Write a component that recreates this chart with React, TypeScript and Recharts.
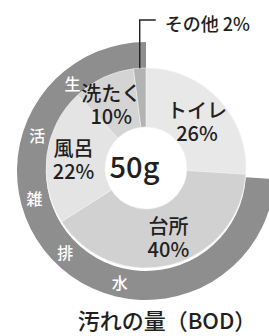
import { PieChart, Pie, Cell, Label } from 'recharts';

const categories = ['トイレ', '台所', '風呂', '洗たく', 'その他'];
const shares = [26, 40, 22, 10, 2];
const ringName = '生活雑排水';
const ringShare = 74;
const totalLabel = '50g';
const title = '汚れの量（BOD）';

const sliceColors = ['#e8e8e8', '#d1d1d1', '#e4e4e4', '#d4d4d4', '#b3b3b3'];
// small hand nudges so the labels sit where the original print puts them
const labelNudge = [
  [0, 1],
  [5, 1],
  [-3, 0],
  [-5, -1],
];
const ringColor = '#8e8e8e';
const FONT = '"Noto Sans CJK JP", "Noto Sans", sans-serif';
const TEXT = '#231f20';
const RADIAN = Math.PI / 180;

const innerData = categories.map((name, i) => ({ name, value: shares[i] }));
const ringData = [
  { name: 'トイレ', value: shares[0] },
  { name: ringName, value: ringShare },
];

function innerLabel(props: any) {
  const { cx, cy, midAngle, outerRadius, index } = props;
  const name = categories[index];
  const pct = `${shares[index]}%`;
  if (name === 'その他') {
    const x = cx + outerRadius * Math.cos(-midAngle * RADIAN);
    const y = cy + outerRadius * Math.sin(-midAngle * RADIAN);
    const top = 20;
    return (
      <g>
        <polyline
          points={`${x},${y} ${x},${top} ${x + 16},${top}`}
          fill="none"
          stroke={TEXT}
          strokeWidth={1.4}
        />
        <text x={x + 25} y={top + 3} fill={TEXT} fontSize={18} fontWeight={500} fontFamily={FONT} dominantBaseline="central">
          {`${name} ${pct}`}
        </text>
      </g>
    );
  }
  const r = 70;
  const [dx, dy] = labelNudge[index] || [0, 0];
  const x = cx + r * Math.cos(-midAngle * RADIAN) + dx;
  const y = cy + r * Math.sin(-midAngle * RADIAN) + dy;
  return (
    <g fill={TEXT} fontSize={20} fontWeight={500} fontFamily={FONT}>
      <text x={x} y={y - 11.5} textAnchor="middle" dominantBaseline="central">{name}</text>
      <text x={x} y={y + 11.5} textAnchor="middle" dominantBaseline="central">{pct}</text>
    </g>
  );
}

function ringLabel(props: any) {
  const { cx, cy, innerRadius, outerRadius, index } = props;
  if (index !== 1) return null;
  const r = (innerRadius + outerRadius) / 2;
  return (
    <g>
      {ringName.split('').map((ch, i) => {
        const a = (130 + i * 31.7) * RADIAN;
        const x = cx + r * Math.cos(a);
        const y = cy - r * Math.sin(a);
        return (
          <text key={ch} x={x} y={y} fill="#ffffff" fontSize={16} fontWeight={500} fontFamily={FONT} textAnchor="middle" dominantBaseline="central">
            {ch}
          </text>
        );
      })}
    </g>
  );
}

export default function App() {
  return (
    <div style={{ position: 'absolute', left: 0, top: 0, width: 269, height: 336, background: '#fff' }}>
      <PieChart width={269} height={336}>
        <Pie
          data={ringData}
          dataKey="value"
          cx={141}
          cy={166}
          innerRadius={100}
          outerRadius={129}
          startAngle={90}
          endAngle={-270}
          stroke="none"
          label={ringLabel}
          labelLine={false}
          isAnimationActive={false}
        >
          <Cell fill="transparent" />
          <Cell fill={ringColor} />
        </Pie>
        <Pie
          data={innerData}
          dataKey="value"
          cx={141}
          cy={163}
          innerRadius={41}
          outerRadius={100}
          startAngle={90}
          endAngle={-270}
          stroke="#f2f2f2"
          strokeWidth={0.6}
          label={innerLabel}
          labelLine={false}
          isAnimationActive={false}
        >
          {innerData.map((d, i) => (
            <Cell key={d.name} fill={sliceColors[i]} />
          ))}
          <Label value={totalLabel} position="center" fill={TEXT} fontSize={29} fontWeight={500} fontFamily={FONT} />
        </Pie>
      </PieChart>
      <div
        style={{
          position: 'absolute',
          left: 0,
          top: 307,
          width: 269,
          paddingLeft: 65,
          boxSizing: 'border-box',
          textAlign: 'center',
          whiteSpace: 'nowrap',
          fontSize: 22,
          fontWeight: 500,
          lineHeight: '25px',
          fontFamily: FONT,
          color: TEXT,
        }}
      >
        {title}
      </div>
    </div>
  );
}
